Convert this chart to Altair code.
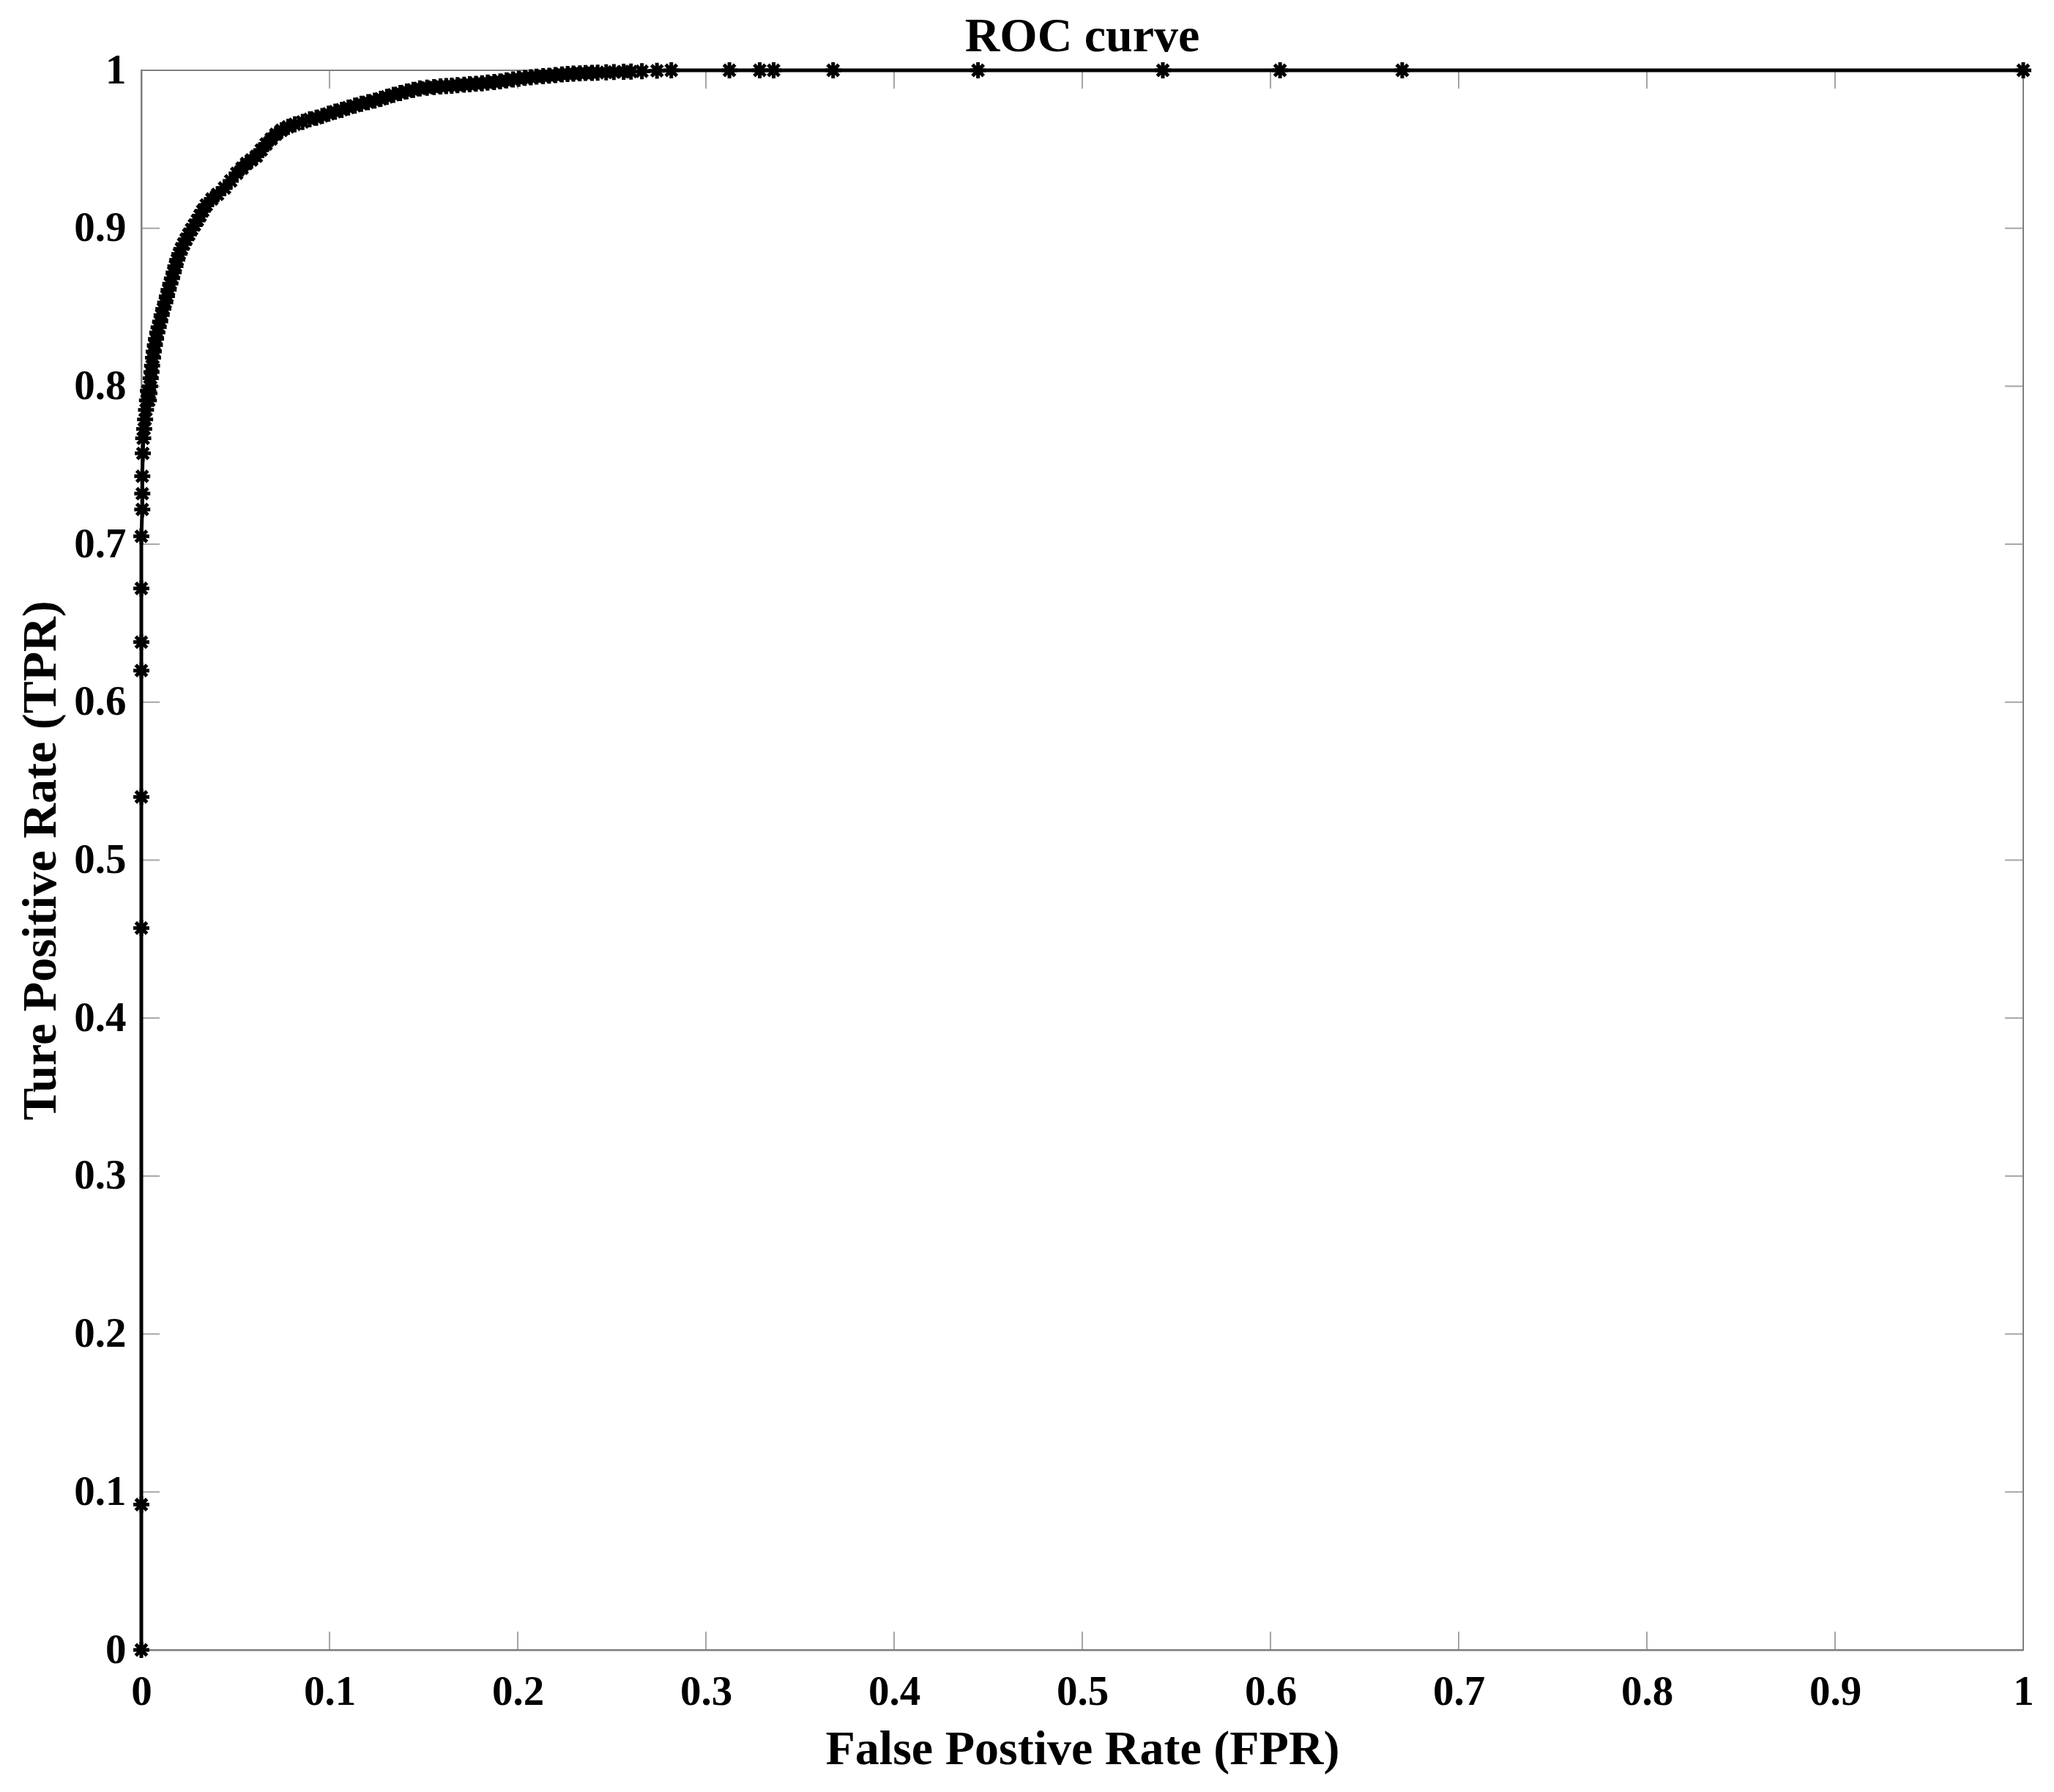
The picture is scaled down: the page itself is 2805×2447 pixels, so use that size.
import altair as alt
import pandas as pd

# ROC curve points, in drawing order
FPR = [
    0.0, 0.0, 0.0, 0.0, 0.0, 0.0, 0.0, 0.0,
    0.0005, 0.0005, 0.0005, 0.0008, 0.0010, 0.0015, 0.0020, 0.0025, 0.0030, 0.0035,
    0.0040, 0.0043, 0.0046, 0.0050, 0.0054, 0.0057, 0.0062, 0.0066, 0.0072, 0.0078,
    0.0085, 0.0092, 0.0100, 0.0108, 0.0117, 0.0127, 0.0136, 0.0145, 0.0154, 0.0163,
    0.0172, 0.0181, 0.0191, 0.0202, 0.0213, 0.0225, 0.0238, 0.0252, 0.0267, 0.0282,
    0.0298, 0.0312, 0.0326,
    0.0345, 0.0375, 0.0405, 0.0442, 0.0475, 0.0507, 0.0535, 0.0559, 0.0585, 0.0611,
    0.0637, 0.0663, 0.0690, 0.0715, 0.0745, 0.0780, 0.0815, 0.0857, 0.0895, 0.0930,
    0.0961, 0.0995, 0.1030, 0.1065, 0.1100, 0.1135, 0.1169, 0.1205, 0.1240, 0.1272,
    0.1305, 0.1340, 0.1376, 0.1410, 0.1445, 0.1480,
    0.1518, 0.1555, 0.1590, 0.1620, 0.1649, 0.1680, 0.1715, 0.1745, 0.1778, 0.1810,
    0.1840, 0.1875, 0.1907, 0.1940, 0.1975, 0.2005, 0.2038, 0.2070, 0.2100, 0.2135,
    0.2167, 0.2200, 0.2235, 0.2265, 0.2296, 0.2330, 0.2360, 0.2395, 0.2425, 0.2470,
    0.2511, 0.2563, 0.2602, 0.2660, 0.2740, 0.2816,
    0.3125, 0.3286, 0.3360, 0.3676, 0.4446, 0.5428, 0.6051, 0.6700, 1.0,
]
TPR = [
    0.0, 0.092, 0.457, 0.540, 0.620, 0.638, 0.672, 0.705,
    0.722, 0.732, 0.743, 0.7575, 0.767, 0.773, 0.779, 0.785, 0.791, 0.797,
    0.791, 0.7956, 0.800, 0.805, 0.809, 0.813, 0.818, 0.822, 0.826, 0.830,
    0.834, 0.8374, 0.841, 0.845, 0.849, 0.853, 0.857, 0.861, 0.865, 0.8683,
    0.872, 0.876, 0.880, 0.8838, 0.887, 0.890, 0.893, 0.896, 0.8993, 0.902,
    0.905, 0.908, 0.911,
    0.9147, 0.9185, 0.9215, 0.9255, 0.9300, 0.9348, 0.9380, 0.9410, 0.9432, 0.9456,
    0.9495, 0.9533, 0.9565, 0.9595, 0.9620, 0.9642, 0.9658, 0.9673, 0.9690, 0.9700,
    0.9711, 0.9725, 0.9738, 0.9750, 0.9764, 0.9776, 0.9788, 0.9798, 0.9808, 0.9819,
    0.9832, 0.9845, 0.9856, 0.9866, 0.9876, 0.9885,
    0.9890, 0.9894, 0.9898, 0.9900, 0.9903, 0.9906, 0.9909, 0.9912, 0.9915, 0.9918,
    0.9922, 0.9926, 0.9930, 0.9936, 0.9942, 0.9947, 0.9952, 0.9956, 0.9960, 0.9963,
    0.9966, 0.9970, 0.9974, 0.9977, 0.9979, 0.9981, 0.9983, 0.9984, 0.9985, 0.9987,
    0.9989, 0.9991, 0.9992, 0.9994, 0.9997, 1.0,
    1.0, 1.0, 1.0, 1.0, 1.0, 1.0, 1.0, 1.0, 1.0,
]
TICKS = [0, 0.1, 0.2, 0.3, 0.4, 0.5, 0.6, 0.7, 0.8, 0.9, 1]

TITLE = "ROC curve"
XTITLE = "False Postive Rate (FPR)"
YTITLE = "Ture Positive Rate (TPR)"

FONT = "Liberation Serif"
GRAY = "#7f7f7f"

df = pd.DataFrame({"fpr": FPR, "tpr": TPR, "idx": list(range(len(FPR)))})
ticks_df = pd.DataFrame({"t": TICKS})

xscale = alt.Scale(domain=[0, 1], nice=False, zero=False)
yscale = alt.Scale(domain=[0, 1], nice=False, zero=False)

common = dict(
    values=TICKS, format="~g", ticks=False, tickSize=0, grid=False,
    labelFlush=False, labelOverlap=False, domainColor=GRAY, domainWidth=2,
    labelFont=FONT, labelFontSize=57, labelFontWeight="bold", labelColor="black",
    titleFont=FONT, titleFontSize=66, titleFontWeight="bold", titleColor="black",
)
xaxis = alt.Axis(labelPadding=29, titlePadding=18, **common)
yaxis = alt.Axis(labelPadding=21, titlePadding=11, **common)

X = lambda f: alt.X(f, type="quantitative", scale=xscale, axis=xaxis, title=XTITLE)
Y = lambda f: alt.Y(f, type="quantitative", scale=yscale, axis=yaxis, title=YTITLE)

asterisk = "M0,-1L0,1M-1,0L1,0M-0.7,-0.7L0.7,0.7M-0.7,0.7L0.7,-0.7"

base = alt.Chart(df)
line = base.mark_line(color="black", strokeWidth=5).encode(
    x=X("fpr"), y=Y("tpr"), order=alt.Order("idx:Q")
)
pts = base.mark_point(shape=asterisk, filled=False, stroke="black", strokeWidth=5,
                      size=480, opacity=1).encode(x=X("fpr"), y=Y("tpr"))

tk = alt.Chart(ticks_df)
TL = 25
xt_bottom = tk.mark_tick(orient="vertical", size=TL, thickness=2, color=GRAY,
                         yOffset=-TL / 2).encode(
    x=X("t"), y=alt.YDatum(0, scale=yscale, axis=yaxis, title=YTITLE))
xt_top = tk.mark_tick(orient="vertical", size=TL, thickness=2, color=GRAY,
                      yOffset=TL / 2).encode(
    x=X("t"), y=alt.YDatum(1, scale=yscale, axis=yaxis, title=YTITLE))
yt_left = tk.mark_tick(orient="horizontal", size=TL, thickness=2, color=GRAY,
                       xOffset=TL / 2).encode(
    y=Y("t"), x=alt.XDatum(0, scale=xscale, axis=xaxis, title=XTITLE))
yt_right = tk.mark_tick(orient="horizontal", size=TL, thickness=2, color=GRAY,
                        xOffset=-TL / 2).encode(
    y=Y("t"), x=alt.XDatum(1, scale=xscale, axis=xaxis, title=XTITLE))

chart = alt.layer(xt_bottom, xt_top, yt_left, yt_right, line, pts).properties(
    width=2570, height=2157,
    background="white",
    title=alt.TitleParams(TITLE, font=FONT, fontSize=66, fontWeight="bold",
                          color="black", offset=-2, dy=15, anchor="middle"),
    autosize=alt.AutoSizeParams(type="none"),
    padding={"left": 185, "top": 88, "right": 34, "bottom": 186},
).configure_view(stroke=GRAY, strokeWidth=2)

chart.save("out.html", embed_options={"renderer": "svg", "actions": False})
